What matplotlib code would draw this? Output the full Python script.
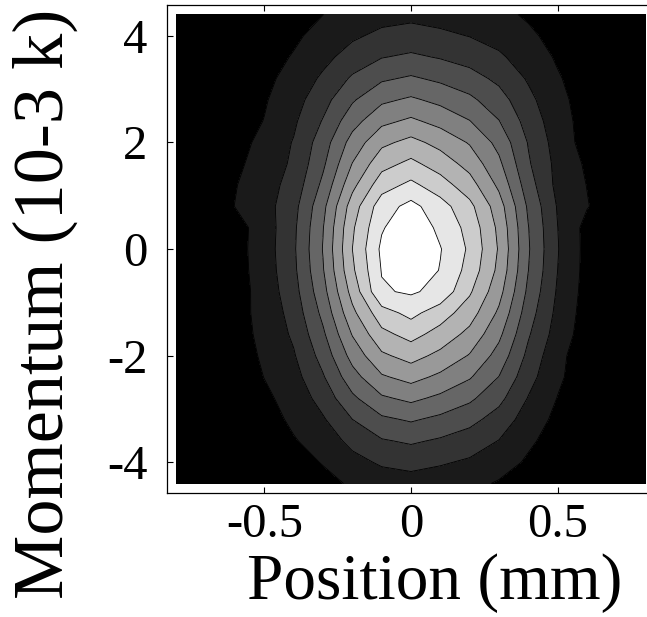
import numpy as np
import matplotlib
matplotlib.use("Agg")
import matplotlib.pyplot as plt

plt.rcParams['font.family'] = ['Liberation Serif', 'DejaVu Serif']

# grid positions (mm, 10^-3 k)
x_pos = [-0.8, -0.7, -0.6, -0.5, -0.4, -0.3, -0.2, -0.1, 0.0,
         0.1, 0.2, 0.3, 0.4, 0.5, 0.6, 0.7, 0.8]
y_mom = [4.4, 4.0, 3.6, 3.2, 2.8, 2.4, 2.0, 1.6, 1.2, 0.8, 0.4, 0.0,
         -0.4, -0.8, -1.2, -1.6, -2.0, -2.4, -2.8, -3.2, -3.6, -4.0, -4.4]

# density values, one row per momentum value (top to bottom)
row_p44 = [0.04, 0.09, 0.21, 0.38, 0.64, 0.99, 1.36, 1.64, 1.75, 1.62, 1.46, 1.22, 0.88, 0.54, 0.28, 0.11, 0.05]
row_p40 = [0.05, 0.12, 0.26, 0.49, 0.84, 1.32, 1.84, 2.23, 2.38, 2.20, 1.97, 1.64, 1.17, 0.70, 0.35, 0.13, 0.06]
row_p36 = [0.06, 0.15, 0.33, 0.63, 1.07, 1.71, 2.43, 2.96, 3.17, 2.93, 2.62, 2.16, 1.51, 0.89, 0.43, 0.16, 0.08]
row_p32 = [0.08, 0.17, 0.40, 0.77, 1.34, 2.17, 3.14, 3.85, 4.13, 3.80, 3.39, 2.77, 1.89, 1.09, 0.52, 0.20, 0.09]
row_p28 = [0.08, 0.20, 0.45, 0.91, 1.60, 2.64, 3.88, 4.80, 5.15, 4.74, 4.21, 3.41, 2.26, 1.28, 0.57, 0.23, 0.09]
row_p24 = [0.09, 0.21, 0.49, 1.03, 1.84, 3.07, 4.61, 5.75, 6.18, 5.67, 5.03, 4.03, 2.60, 1.43, 0.61, 0.24, 0.10]
row_p20 = [0.09, 0.22, 0.60, 1.30, 2.06, 3.52, 5.39, 6.77, 7.29, 6.68, 5.91, 4.69, 2.94, 1.56, 0.61, 0.25, 0.09]
row_p16 = [0.08, 0.25, 0.80, 1.40, 2.17, 3.82, 6.03, 7.65, 8.24, 7.54, 6.64, 5.21, 3.12, 1.70, 0.85, 0.30, 0.08]
row_p12 = [0.08, 0.30, 0.95, 1.55, 2.39, 4.24, 6.72, 8.57, 9.24, 8.45, 7.43, 5.79, 3.45, 1.72, 0.98, 0.32, 0.08]
row_p08 = [0.09, 0.35, 1.02, 1.60, 2.67, 4.73, 7.49, 9.55, 10.30, 9.41, 8.28, 6.46, 3.84, 1.92, 1.06, 0.35, 0.09]
row_p04 = [0.10, 0.25, 0.60, 1.47, 2.80, 4.96, 7.85, 9.90, 10.80, 9.75, 8.68, 6.77, 4.03, 2.01, 0.68, 0.29, 0.10]
row_000 = [0.10, 0.25, 0.62, 1.50, 2.85, 5.05, 8.00, 10.20, 11.00, 10.05, 8.84, 6.90, 4.10, 2.05, 0.69, 0.30, 0.10]
row_m04 = [0.10, 0.25, 0.60, 1.46, 2.78, 4.93, 7.82, 10.05, 10.75, 9.95, 8.64, 6.74, 4.01, 2.00, 0.68, 0.29, 0.10]
row_m08 = [0.09, 0.23, 0.57, 1.38, 2.62, 4.65, 7.36, 9.89, 10.13, 9.70, 8.14, 6.35, 3.78, 1.88, 0.64, 0.27, 0.09]
row_m12 = [0.08, 0.21, 0.70, 1.26, 2.40, 4.26, 6.75, 8.60, 9.28, 8.48, 7.46, 5.82, 3.46, 1.73, 0.58, 0.25, 0.08]
row_m16 = [0.08, 0.19, 0.60, 1.25, 2.16, 3.83, 6.06, 7.73, 8.34, 7.62, 6.71, 5.23, 3.11, 1.55, 0.53, 0.23, 0.08]
row_m20 = [0.07, 0.17, 0.50, 1.15, 1.91, 3.38, 5.36, 6.83, 7.37, 6.74, 5.93, 4.62, 2.75, 1.25, 0.46, 0.20, 0.07]
row_m24 = [0.06, 0.15, 0.40, 1.02, 1.64, 2.91, 4.61, 5.88, 6.34, 5.79, 5.10, 3.98, 2.36, 1.18, 0.40, 0.17, 0.06]
row_m28 = [0.05, 0.12, 0.29, 0.82, 1.35, 2.40, 3.80, 4.85, 5.23, 4.78, 4.20, 3.28, 1.95, 0.97, 0.33, 0.14, 0.05]
row_m32 = [0.04, 0.09, 0.23, 0.56, 1.20, 1.89, 2.99, 3.81, 4.11, 3.76, 3.30, 2.58, 1.53, 0.76, 0.26, 0.11, 0.04]
row_m36 = [0.03, 0.07, 0.18, 0.43, 0.92, 1.44, 2.28, 2.91, 3.14, 2.87, 2.52, 1.97, 1.17, 0.58, 0.20, 0.08, 0.03]
row_m40 = [0.02, 0.05, 0.13, 0.31, 0.60, 1.06, 1.68, 2.14, 2.31, 2.11, 1.86, 1.45, 0.86, 0.43, 0.15, 0.06, 0.02]
row_m44 = [0.01, 0.03, 0.08, 0.20, 0.39, 0.70, 1.13, 1.48, 1.60, 1.46, 1.27, 0.90, 0.57, 0.28, 0.09, 0.04, 0.01]

contour_levels = [1, 2, 3, 4, 5, 6, 7, 8, 9, 10]
band_grays = ['0.0', '0.1', '0.2', '0.3', '0.4', '0.5', '0.6', '0.7', '0.8', '0.9', '1.0']

x_ticks = [-0.5, 0, 0.5]
x_ticklabels = ['-0.5', '0', '0.5']
y_ticks = [-4, -2, 0, 2, 4]
y_ticklabels = ['-4', '-2', '0', '2', '4']

rows = [row_p44, row_p40, row_p36, row_p32, row_p28, row_p24, row_p20, row_p16,
        row_p12, row_p08, row_p04, row_000, row_m04, row_m08, row_m12, row_m16,
        row_m20, row_m24, row_m28, row_m32, row_m36, row_m40, row_m44]

X = np.array(x_pos)
Y = np.array(y_mom)[::-1]
Z = np.array(rows)[::-1]

W, H = 647, 617
fig = plt.figure(figsize=(W / 100, H / 100), dpi=100)
ax = fig.add_axes([167 / W, (H - 493) / H, 488 / W, 488 / H])

bounds = [Z.min() - 1] + contour_levels + [Z.max() + 1]
ax.contourf(X, Y, Z, levels=bounds, colors=band_grays)
ax.contour(X, Y, Z, levels=contour_levels, colors='black', linewidths=0.6)

ax.set_xlim(-0.832, 0.832)
ax.set_ylim(-4.578, 4.578)
ax.set_xticks(x_ticks)
ax.set_xticklabels(x_ticklabels)
ax.set_yticks(y_ticks)
ax.set_yticklabels(y_ticklabels)
ax.tick_params(direction='in', length=4, width=0.8, top=True, right=True,
               labelsize=35)
ax.tick_params(axis='x', pad=7)
ax.tick_params(axis='y', pad=14)
for s in ax.spines.values():
    s.set_linewidth(0.9)

fig.text(435 / W, (H - 599) / H, 'Position (mm)', fontsize=47,
         ha='center', va='baseline')
fig.text(63 / W, (H - 304) / H, 'Momentum (10-3 k)', fontsize=52,
         rotation=90, rotation_mode='anchor', ha='center', va='baseline')

fig.savefig('out.png', dpi=100)
